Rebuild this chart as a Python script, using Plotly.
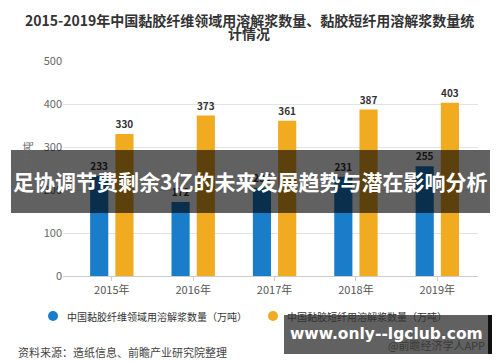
import plotly.graph_objects as go

years = ["2015年", "2016年", "2017年", "2018年", "2019年"]
series_names = ["中国黏胶纤维领域用溶解浆数量（万吨）", "中国黏胶短纤用溶解浆数量（万吨）"]
blue_vals = [233, 172, 205, 231, 255]
orange_vals = [330, 373, 361, 387, 403]
colors = ["#1a7dca", "#f1ab20"]

title_line1 = "2015-2019年中国黏胶纤维领域用溶解浆数量、黏胶短纤用溶解浆数量统"
title_line2 = "计情况"
y_title = "单位：万吨"
source_text = "资料来源：造纸信息、前瞻产业研究院整理"
banner_text = "足协调节费剩余3亿的未来发展趋势与潜在影响分析"
wm_text = "www.only--lgclub.com"
app_text = "@前瞻经济学人APP"

CJK = "Noto Sans CJK SC"
W, H = 500, 362
L, R, T, B = 63, 478, 61, 276


def px(x):
    return (x - L) / (R - L)


def py(y):
    return (B - y) / (B - T)


fig = go.Figure()
for vals, name, col in zip([blue_vals, orange_vals], series_names, colors):
    fig.add_trace(go.Bar(
        x=years, y=vals, name=name, marker=dict(color=col, line=dict(width=0)),
        text=vals, textposition="outside", cliponaxis=False,
        textfont=dict(family=CJK, size=10, color="#333333", weight="bold"),
        showlegend=False,
    ))

shapes = []
annotations = []

# title
annotations.append(dict(text=title_line1, x=px(249), y=py(20), xref="paper", yref="paper",
                        showarrow=False, xanchor="center", yanchor="middle",
                        font=dict(family=CJK, size=14, color="#333333", weight="bold")))
annotations.append(dict(text=title_line2, x=px(249), y=py(33), xref="paper", yref="paper",
                        showarrow=False, xanchor="center", yanchor="middle",
                        font=dict(family=CJK, size=14, color="#333333", weight="bold")))
# y axis title
annotations.append(dict(text=y_title, x=px(27), y=py(168), xref="paper", yref="paper",
                        showarrow=False, textangle=-90, xanchor="center", yanchor="middle",
                        font=dict(family=CJK, size=10.5, color="#666666")))

# legend (manual)
leg_y = 316
for cx, tx, name, col in [(53, 65, series_names[0], colors[0]), (273, 285, series_names[1], colors[1])]:
    shapes.append(dict(type="circle", xref="paper", yref="paper",
                       x0=px(cx - 5), x1=px(cx + 5), y0=py(leg_y + 5), y1=py(leg_y - 5),
                       fillcolor=col, line=dict(width=0)))
    annotations.append(dict(text=name, x=px(tx), y=py(leg_y), xref="paper", yref="paper",
                            showarrow=False, xanchor="left", yanchor="middle",
                            font=dict(family=CJK, size=10, color="#333333")))

# source
annotations.append(dict(text=source_text, x=px(16), y=py(352), xref="paper", yref="paper",
                        showarrow=False, xanchor="left", yanchor="middle",
                        font=dict(family=CJK, size=11, color="#444444")))

# banner overlay
shapes.append(dict(type="rect", xref="paper", yref="paper", layer="above",
                   x0=px(11), x1=px(490), y0=py(213), y1=py(150),
                   fillcolor="rgba(0,0,0,0.62)", line=dict(width=0)))
annotations.append(dict(text=banner_text, x=px(250), y=py(181), xref="paper", yref="paper",
                        showarrow=False, xanchor="center", yanchor="middle",
                        font=dict(family=CJK, size=21, color="#ffffff", weight="bold")))

# watermark box
shapes.append(dict(type="rect", xref="paper", yref="paper", layer="above",
                   x0=px(284), x1=px(489), y0=py(354), y1=py(315),
                   fillcolor="rgba(0,0,0,0.62)", line=dict(width=0)))
shapes.append(dict(type="rect", xref="paper", yref="paper", layer="above",
                   x0=px(488), x1=px(492), y0=py(354), y1=py(315),
                   fillcolor="#111111", line=dict(width=0)))
annotations.append(dict(text=app_text, x=px(487), y=py(345), xref="paper", yref="paper",
                        showarrow=False, xanchor="right", yanchor="middle",
                        font=dict(family=CJK, size=11, color="#3a3a3a")))
annotations.append(dict(text=wm_text, x=px(386), y=py(334), xref="paper", yref="paper",
                        showarrow=False, xanchor="center", yanchor="middle",
                        font=dict(family="DejaVu Sans", size=15.5, color="#ffffff", weight="bold")))

fig.update_layout(
    width=W, height=H,
    margin=dict(l=L, r=W - R, t=T, b=H - B, pad=0),
    paper_bgcolor="#ffffff", plot_bgcolor="#ffffff",
    barmode="group", bargap=0.38, bargroupgap=0.28,
    shapes=shapes, annotations=annotations,
    showlegend=False,
    font=dict(family=CJK),
)
fig.update_xaxes(type="category", range=[-0.6, 4.5], showline=True, linecolor="#cccccc", linewidth=1,
                 ticks="outside", ticklen=4, tickcolor="#cccccc", showgrid=False,
                 tickfont=dict(family=CJK, size=11, color="#555555"), fixedrange=True)
fig.update_yaxes(range=[0, 500], dtick=100, showgrid=True, gridcolor="#e3e3e3", gridwidth=1,
                 zeroline=False, showline=False, ticks="",
                 tickfont=dict(family=CJK, size=11, color="#666666"), fixedrange=True)

fig.write_html("out.html", config={"displayModeBar": False},
               post_script="document.body.style.margin='0';document.body.style.padding='0';")
